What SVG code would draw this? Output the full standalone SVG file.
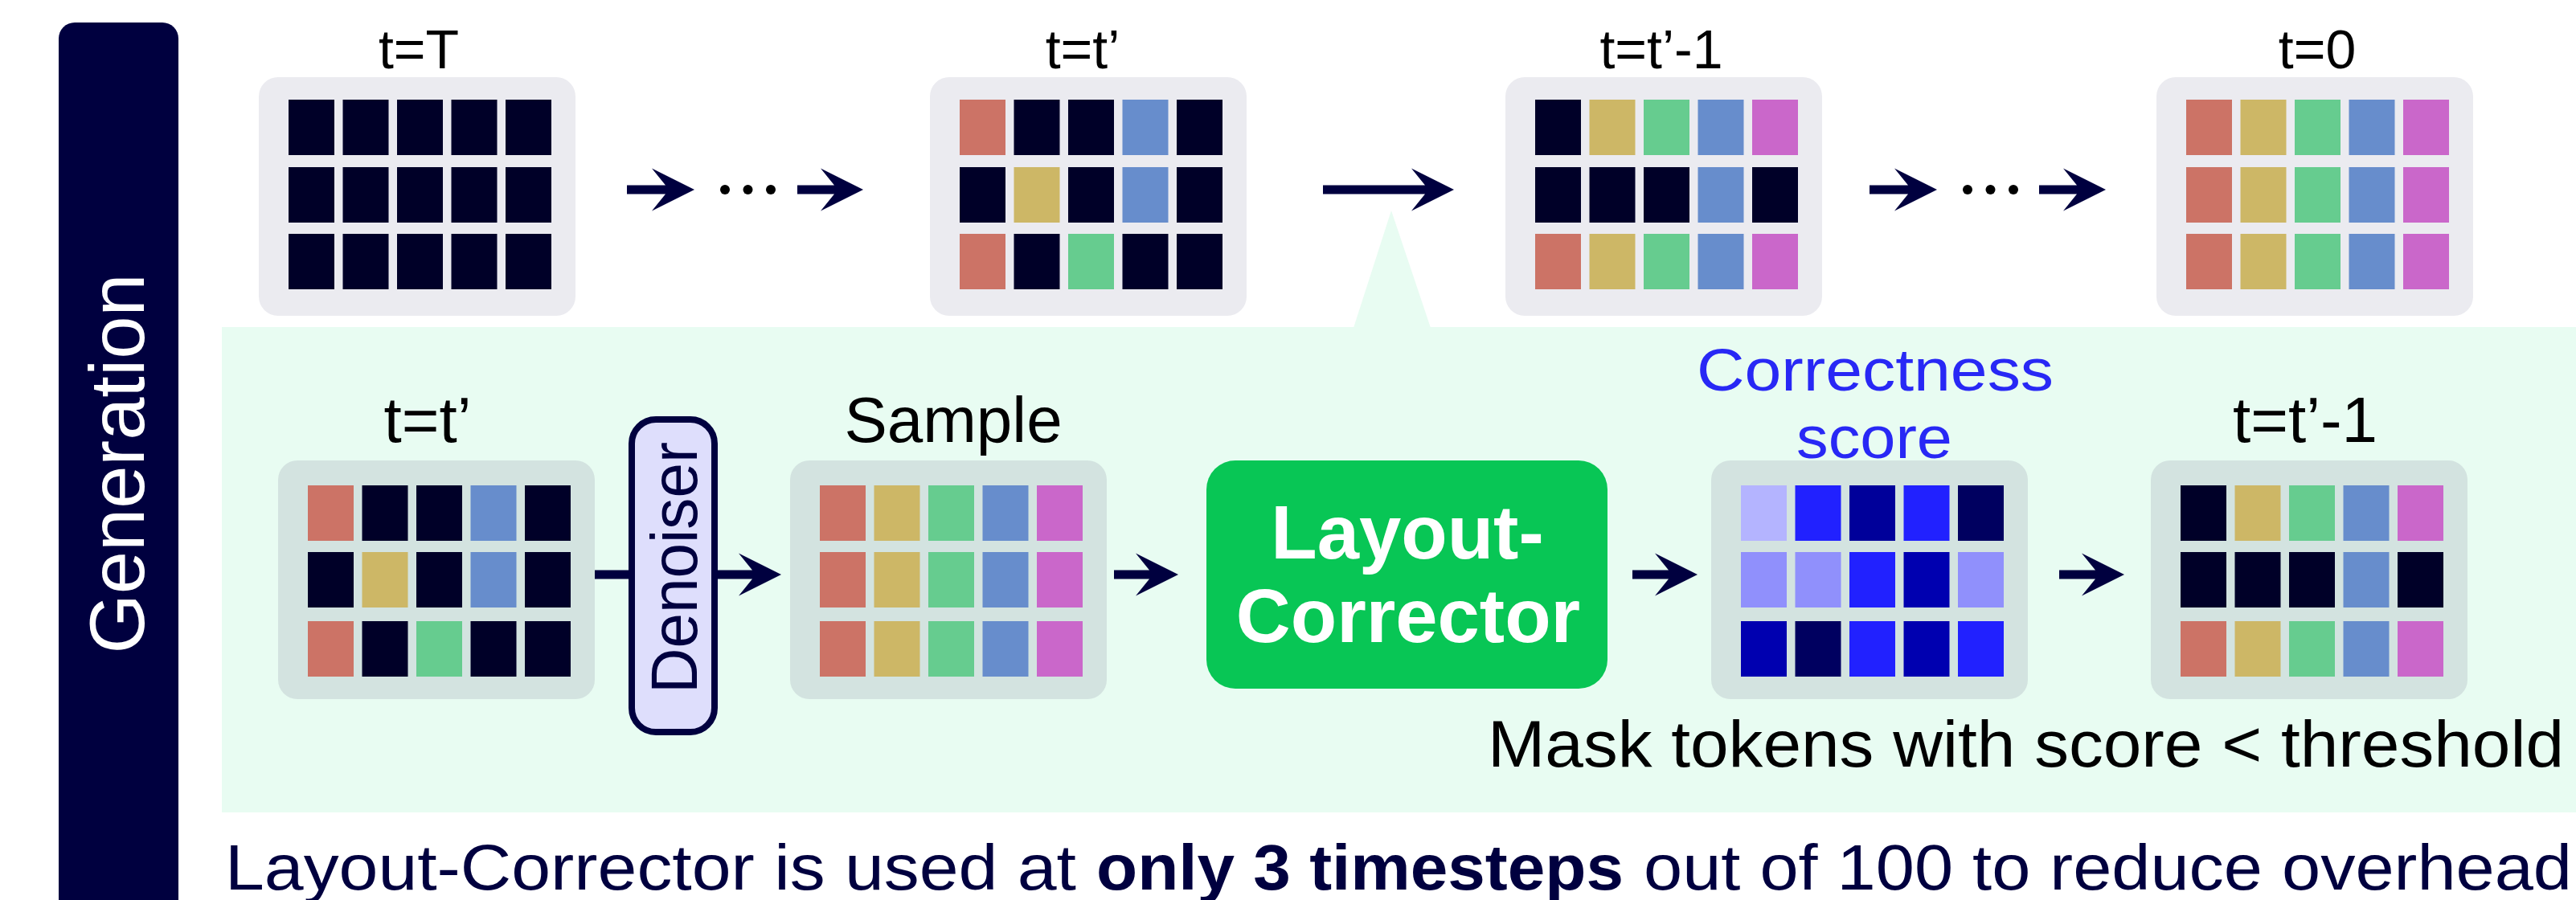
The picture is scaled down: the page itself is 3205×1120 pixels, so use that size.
<svg xmlns="http://www.w3.org/2000/svg" width="3205" height="1120" viewBox="0 0 3205 1120">
<style>
text{font-family:"Liberation Sans",Arial,sans-serif}
.tp{fill:#EBEBF0}
.bp{fill:#D3E3E0}
.k{fill:#000028}.r{fill:#CC7366}.y{fill:#CDB766}.g{fill:#66CC8F}.b{fill:#678DCC}.p{fill:#CA67CA}
.s1{fill:#B4B4FF}.s2{fill:#9090FC}.s3{fill:#2121FF}.s4{fill:#0000B0}.s5{fill:#00009A}.s6{fill:#000060}
.arr{fill:#00003F}
.lt{font-size:68px;fill:#000;text-anchor:middle}
.lb{font-size:80px;fill:#000;text-anchor:middle}
.sc{font-size:75px;fill:#2828F5;text-anchor:middle}
</style>
<rect width="3205" height="1120" fill="#fff"/>
<g id="sidebar">
<path d="M73,1120 V48 A20,20 0 0 1 93,28 H202 A20,20 0 0 1 222,48 V1120 Z" fill="#00003F"/>
<text transform="translate(179,577) rotate(-90)" font-size="96" fill="#fff" text-anchor="middle" textLength="473" lengthAdjust="spacingAndGlyphs">Generation</text>
</g>
<g id="detail-bg">
<rect x="276" y="407" width="2929" height="604" fill="#E8FCF2"/>
<polygon points="1731,262 1684,408 1780,408" fill="#E8FCF2"/>
</g>
<g id="top-tT">
<text class="lt" x="521" y="85">t=T</text>
<g transform="translate(322,96)">
<rect class="tp" width="394" height="297" rx="24"/>
<g transform="translate(0,28)"><rect class="k" x="37" width="57" height="69"/><rect class="k" x="104.5" width="57" height="69"/><rect class="k" x="172" width="57" height="69"/><rect class="k" x="239.5" width="57" height="69"/><rect class="k" x="307" width="57" height="69"/></g>
<g transform="translate(0,112)"><rect class="k" x="37" width="57" height="69"/><rect class="k" x="104.5" width="57" height="69"/><rect class="k" x="172" width="57" height="69"/><rect class="k" x="239.5" width="57" height="69"/><rect class="k" x="307" width="57" height="69"/></g>
<g transform="translate(0,195)"><rect class="k" x="37" width="57" height="69"/><rect class="k" x="104.5" width="57" height="69"/><rect class="k" x="172" width="57" height="69"/><rect class="k" x="239.5" width="57" height="69"/><rect class="k" x="307" width="57" height="69"/></g>
</g>
</g>
<g id="top-tprime">
<text class="lt" x="1347" y="85">t=t’</text>
<g transform="translate(1157,96)">
<rect class="tp" width="394" height="297" rx="24"/>
<g transform="translate(0,28)"><rect class="r" x="37" width="57" height="69"/><rect class="k" x="104.5" width="57" height="69"/><rect class="k" x="172" width="57" height="69"/><rect class="b" x="239.5" width="57" height="69"/><rect class="k" x="307" width="57" height="69"/></g>
<g transform="translate(0,112)"><rect class="k" x="37" width="57" height="69"/><rect class="y" x="104.5" width="57" height="69"/><rect class="k" x="172" width="57" height="69"/><rect class="b" x="239.5" width="57" height="69"/><rect class="k" x="307" width="57" height="69"/></g>
<g transform="translate(0,195)"><rect class="r" x="37" width="57" height="69"/><rect class="k" x="104.5" width="57" height="69"/><rect class="g" x="172" width="57" height="69"/><rect class="k" x="239.5" width="57" height="69"/><rect class="k" x="307" width="57" height="69"/></g>
</g>
</g>
<g id="top-tprime-1">
<text class="lt" x="2067" y="85">t=t’-1</text>
<g transform="translate(1873,96)">
<rect class="tp" width="394" height="297" rx="24"/>
<g transform="translate(0,28)"><rect class="k" x="37" width="57" height="69"/><rect class="y" x="104.5" width="57" height="69"/><rect class="g" x="172" width="57" height="69"/><rect class="b" x="239.5" width="57" height="69"/><rect class="p" x="307" width="57" height="69"/></g>
<g transform="translate(0,112)"><rect class="k" x="37" width="57" height="69"/><rect class="k" x="104.5" width="57" height="69"/><rect class="k" x="172" width="57" height="69"/><rect class="b" x="239.5" width="57" height="69"/><rect class="k" x="307" width="57" height="69"/></g>
<g transform="translate(0,195)"><rect class="r" x="37" width="57" height="69"/><rect class="y" x="104.5" width="57" height="69"/><rect class="g" x="172" width="57" height="69"/><rect class="b" x="239.5" width="57" height="69"/><rect class="p" x="307" width="57" height="69"/></g>
</g>
</g>
<g id="top-t0">
<text class="lt" x="2883" y="85">t=0</text>
<g transform="translate(2683,96)">
<rect class="tp" width="394" height="297" rx="24"/>
<g transform="translate(0,28)"><rect class="r" x="37" width="57" height="69"/><rect class="y" x="104.5" width="57" height="69"/><rect class="g" x="172" width="57" height="69"/><rect class="b" x="239.5" width="57" height="69"/><rect class="p" x="307" width="57" height="69"/></g>
<g transform="translate(0,112)"><rect class="r" x="37" width="57" height="69"/><rect class="y" x="104.5" width="57" height="69"/><rect class="g" x="172" width="57" height="69"/><rect class="b" x="239.5" width="57" height="69"/><rect class="p" x="307" width="57" height="69"/></g>
<g transform="translate(0,195)"><rect class="r" x="37" width="57" height="69"/><rect class="y" x="104.5" width="57" height="69"/><rect class="g" x="172" width="57" height="69"/><rect class="b" x="239.5" width="57" height="69"/><rect class="p" x="307" width="57" height="69"/></g>
</g>
</g>
<g id="connectors">
<polygon class="arr" points="780,230.5 828,230.5 811,209.5 864,236 811,262.5 828,241.5 780,241.5"/>
<polygon class="arr" points="992,230.5 1038,230.5 1021,209.5 1074,236 1021,262.5 1038,241.5 992,241.5"/>
<polygon class="arr" points="1646,230.5 1773,230.5 1756,209.5 1809,236 1756,262.5 1773,241.5 1646,241.5"/>
<polygon class="arr" points="2326,230.5 2374,230.5 2357,209.5 2410,236 2357,262.5 2374,241.5 2326,241.5"/>
<polygon class="arr" points="2537,230.5 2584,230.5 2567,209.5 2620,236 2567,262.5 2584,241.5 2537,241.5"/>
<g fill="#000"><circle cx="902" cy="236" r="6"/><circle cx="930.5" cy="236" r="6"/><circle cx="959" cy="236" r="6"/><circle cx="2448" cy="236" r="6"/><circle cx="2476.5" cy="236" r="6"/><circle cx="2505" cy="236" r="6"/></g>
<polygon class="arr" points="739,709.5 936,709.5 919,688.5 972,715 919,741.5 936,720.5 739,720.5"/>
<polygon class="arr" points="1386,709.5 1430,709.5 1413,688.5 1466,715 1413,741.5 1430,720.5 1386,720.5"/>
<polygon class="arr" points="2031,709.5 2076,709.5 2059,688.5 2112,715 2059,741.5 2076,720.5 2031,720.5"/>
<polygon class="arr" points="2562,709.5 2607,709.5 2590,688.5 2643,715 2590,741.5 2607,720.5 2562,720.5"/>
</g>
<g id="bottom-tprime">
<text class="lb" x="532" y="550">t=t’</text>
<g transform="translate(346,573)">
<rect class="bp" width="394" height="297" rx="24"/>
<g transform="translate(0,31)"><rect class="r" x="37" width="57" height="69"/><rect class="k" x="104.5" width="57" height="69"/><rect class="k" x="172" width="57" height="69"/><rect class="b" x="239.5" width="57" height="69"/><rect class="k" x="307" width="57" height="69"/></g>
<g transform="translate(0,114)"><rect class="k" x="37" width="57" height="69"/><rect class="y" x="104.5" width="57" height="69"/><rect class="k" x="172" width="57" height="69"/><rect class="b" x="239.5" width="57" height="69"/><rect class="k" x="307" width="57" height="69"/></g>
<g transform="translate(0,200)"><rect class="r" x="37" width="57" height="69"/><rect class="k" x="104.5" width="57" height="69"/><rect class="g" x="172" width="57" height="69"/><rect class="k" x="239.5" width="57" height="69"/><rect class="k" x="307" width="57" height="69"/></g>
</g>
</g>
<g id="denoiser">
<rect x="786" y="522" width="103" height="389" rx="30" fill="#DEDEFC" stroke="#00003F" stroke-width="8"/>
<text transform="translate(867,706.5) rotate(-90)" font-size="82" fill="#00003F" text-anchor="middle" textLength="313" lengthAdjust="spacingAndGlyphs">Denoiser</text>
</g>
<g id="sample">
<text class="lb" x="1186" y="550">Sample</text>
<g transform="translate(983,573)">
<rect class="bp" width="394" height="297" rx="24"/>
<g transform="translate(0,31)"><rect class="r" x="37" width="57" height="69"/><rect class="y" x="104.5" width="57" height="69"/><rect class="g" x="172" width="57" height="69"/><rect class="b" x="239.5" width="57" height="69"/><rect class="p" x="307" width="57" height="69"/></g>
<g transform="translate(0,114)"><rect class="r" x="37" width="57" height="69"/><rect class="y" x="104.5" width="57" height="69"/><rect class="g" x="172" width="57" height="69"/><rect class="b" x="239.5" width="57" height="69"/><rect class="p" x="307" width="57" height="69"/></g>
<g transform="translate(0,200)"><rect class="r" x="37" width="57" height="69"/><rect class="y" x="104.5" width="57" height="69"/><rect class="g" x="172" width="57" height="69"/><rect class="b" x="239.5" width="57" height="69"/><rect class="p" x="307" width="57" height="69"/></g>
</g>
</g>
<g id="layout-corrector">
<rect x="1501" y="573" width="499" height="284" rx="36" fill="#08C655"/>
<text x="1751" y="695" font-size="94" font-weight="bold" fill="#fff" text-anchor="middle">Layout-</text>
<text x="1752" y="799" font-size="94" font-weight="bold" fill="#fff" text-anchor="middle">Corrector</text>
</g>
<g id="score">
<text class="sc" x="2333" y="486" textLength="444" lengthAdjust="spacingAndGlyphs">Correctness</text>
<text class="sc" x="2332" y="570" textLength="194" lengthAdjust="spacingAndGlyphs">score</text>
<g transform="translate(2129,573)">
<rect class="bp" width="394" height="297" rx="24"/>
<g transform="translate(0,31)"><rect class="s1" x="37" width="57" height="69"/><rect class="s3" x="104.5" width="57" height="69"/><rect class="s5" x="172" width="57" height="69"/><rect class="s3" x="239.5" width="57" height="69"/><rect class="s6" x="307" width="57" height="69"/></g>
<g transform="translate(0,114)"><rect class="s2" x="37" width="57" height="69"/><rect class="s2" x="104.5" width="57" height="69"/><rect class="s3" x="172" width="57" height="69"/><rect class="s4" x="239.5" width="57" height="69"/><rect class="s2" x="307" width="57" height="69"/></g>
<g transform="translate(0,200)"><rect class="s4" x="37" width="57" height="69"/><rect class="s6" x="104.5" width="57" height="69"/><rect class="s3" x="172" width="57" height="69"/><rect class="s4" x="239.5" width="57" height="69"/><rect class="s3" x="307" width="57" height="69"/></g>
</g>
</g>
<g id="bottom-tprime-1">
<text class="lb" x="2868" y="550">t=t’-1</text>
<g transform="translate(2676,573)">
<rect class="bp" width="394" height="297" rx="24"/>
<g transform="translate(0,31)"><rect class="k" x="37" width="57" height="69"/><rect class="y" x="104.5" width="57" height="69"/><rect class="g" x="172" width="57" height="69"/><rect class="b" x="239.5" width="57" height="69"/><rect class="p" x="307" width="57" height="69"/></g>
<g transform="translate(0,114)"><rect class="k" x="37" width="57" height="69"/><rect class="k" x="104.5" width="57" height="69"/><rect class="k" x="172" width="57" height="69"/><rect class="b" x="239.5" width="57" height="69"/><rect class="k" x="307" width="57" height="69"/></g>
<g transform="translate(0,200)"><rect class="r" x="37" width="57" height="69"/><rect class="y" x="104.5" width="57" height="69"/><rect class="g" x="172" width="57" height="69"/><rect class="b" x="239.5" width="57" height="69"/><rect class="p" x="307" width="57" height="69"/></g>
</g>
</g>
<g id="mask-note">
<text x="1851" y="954" font-size="82" fill="#000" textLength="1339" lengthAdjust="spacingAndGlyphs">Mask tokens with score &lt; threshold</text>
</g>
<g id="footnote" fill="#00003F" font-size="80">
<text x="280" y="1107" textLength="1059" lengthAdjust="spacingAndGlyphs">Layout-Corrector is used at</text>
<text x="1364" y="1107" font-weight="bold" textLength="656" lengthAdjust="spacingAndGlyphs">only 3 timesteps</text>
<text x="2045" y="1107" textLength="1155" lengthAdjust="spacingAndGlyphs">out of 100 to reduce overhead</text>
</g>
</svg>
